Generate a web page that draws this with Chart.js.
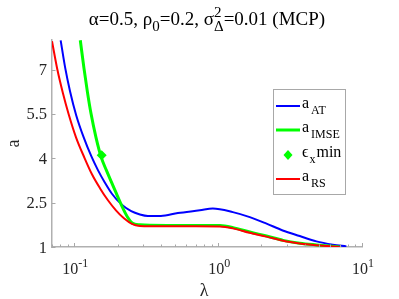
<!DOCTYPE html>
<html>
<head>
<meta charset="utf-8">
<script src="https://cdn.jsdelivr.net/npm/chart.js@4.4.0/dist/chart.umd.min.js"></script>
<style>
  html, body { margin: 0; padding: 0; background: #fff; }
  #wrap { width: 399px; height: 299px; }
</style>
</head>
<body>
<div id="wrap"><canvas id="myChart"></canvas></div>
<script>
// values
const lambdaAT = [0.0804, 0.0866, 0.0934, 0.1032, 0.1168, 0.1313, 0.146, 0.1626, 0.1827, 0.212, 0.2487, 0.2859, 0.325, 0.400, 0.525, 0.746, 0.918, 1.265, 1.66, 2.17, 2.81, 3.69, 4.82, 6.26, 7.79]
const aAT = [7.99, 7.04, 6.27, 5.45, 4.68, 4.07, 3.60, 3.19, 2.80, 2.45, 2.21, 2.10, 2.05, 2.05, 2.15, 2.24, 2.30, 2.18, 2.01, 1.79, 1.56, 1.37, 1.19, 1.08, 1.02]

const lambdaIMSE = [0.1101, 0.1168, 0.1235, 0.1306, 0.1415, 0.154, 0.1673, 0.181, 0.1957, 0.212, 0.2249, 0.236, 0.2496, 0.264, 0.2859, 0.3355, 0.5, 0.7, 1.03, 1.27, 1.66, 2.17, 2.83, 3.69, 4.82, 7.0]
const aIMSE = [7.99, 7.04, 6.23, 5.52, 4.71, 4.03, 3.59, 3.20, 2.82, 2.43, 2.17, 1.99, 1.83, 1.77, 1.75, 1.735, 1.73, 1.73, 1.725, 1.655, 1.505, 1.37, 1.225, 1.13, 1.07, 1.0]

const lambdaRS = [0.07, 0.0762, 0.0834, 0.0914, 0.1028, 0.1181, 0.1327, 0.1508, 0.1714, 0.1948, 0.2214, 0.2516, 0.2859, 0.3355, 0.5, 0.7, 1.03, 1.27, 1.66, 2.17, 2.83, 3.69, 4.82, 7.0]
const aRS = [7.96, 7.01, 6.20, 5.49, 4.71, 4.00, 3.46, 2.99, 2.58, 2.24, 1.97, 1.78, 1.71, 1.70, 1.70, 1.70, 1.695, 1.63, 1.48, 1.35, 1.21, 1.12, 1.06, 1.0]

const lambdaMin = [0.155]
const epsMin = [4.1]

const yTicks = [1, 2.5, 4, 5.5, 7]
const xMajor = [0.1, 1, 10]
const xMajorExp = ['-1', '0', '1']
const xMinor = [0.07, 0.08, 0.09, 0.2, 0.3, 0.4, 0.5, 0.6, 0.7, 0.8, 0.9, 2, 3, 4, 5, 6, 7, 8, 9]

function pts(xs, ys) {
  return xs.map((v, i) => ({ x: v, y: ys[i] }))
}

const FONT = '"Liberation Serif", "Times New Roman", serif'

function layoutParts(ctx, parts) {
  let cur = 0, prevStart = 0, prevW = 0
  const pos = []
  parts.forEach(p => {
    ctx.font = p.size + 'px ' + FONT
    const w = ctx.measureText(p.t).width
    if (p.stack) {
      pos.push(prevStart)
      prevW = Math.max(prevW, w)
      cur = prevStart + prevW
    } else {
      pos.push(cur)
      prevStart = cur
      prevW = w
      cur += w + (p.gap || 0)
    }
  })
  return { pos: pos, width: cur }
}

function drawParts(ctx, parts, x, y, align) {
  const lay = layoutParts(ctx, parts)
  let x0 = x
  if (align == 'center') x0 = x - lay.width / 2
  if (align == 'right') x0 = x - lay.width
  ctx.textAlign = 'left'
  ctx.textBaseline = 'alphabetic'
  parts.forEach((p, i) => {
    ctx.font = p.size + 'px ' + FONT
    ctx.fillText(p.t, x0 + lay.pos[i], y + (p.dy || 0))
  })
}

const decor = {
  id: 'decor',
  afterDraw(chart) {
    const ctx = chart.ctx
    const xs = chart.scales.x
    const ys = chart.scales.y
    const area = chart.chartArea
    ctx.save()

    // inward tick marks
    ctx.strokeStyle = '#a8a8a8'
    ctx.lineWidth = 1
    ctx.beginPath()
    xMinor.forEach(v => {
      const px = Math.round(xs.getPixelForValue(v)) + 0.5
      ctx.moveTo(px, area.bottom)
      ctx.lineTo(px, area.bottom - 2.5)
    })
    xMajor.forEach(v => {
      const px = Math.round(xs.getPixelForValue(v)) + 0.5
      ctx.moveTo(px, area.bottom)
      ctx.lineTo(px, area.bottom - 4)
    })
    yTicks.forEach(v => {
      const py = Math.round(ys.getPixelForValue(v)) + 0.5
      ctx.moveTo(area.left, py)
      ctx.lineTo(area.left + 3.5, py)
    })
    ctx.stroke()

    ctx.fillStyle = '#262626'
    // y tick labels
    ctx.font = '16.5px ' + FONT
    ctx.textAlign = 'right'
    ctx.textBaseline = 'alphabetic'
    yTicks.forEach(v => {
      ctx.fillText(String(v), area.left - 5, ys.getPixelForValue(v) + 5.5)
    })
    // x tick labels
    xMajor.forEach((v, i) => {
      drawParts(ctx, [{ t: '10', size: 16 }, { t: xMajorExp[i], size: 12, dy: -7 }],
        xs.getPixelForValue(v) + 1, area.bottom + 27, 'center')
    })
    // axis titles
    ctx.font = '18px ' + FONT
    ctx.textAlign = 'center'
    ctx.fillText('λ', (area.left + area.right) / 2 - 3, 296)
    ctx.save()
    ctx.translate(19, (area.top + area.bottom) / 2)
    ctx.rotate(-Math.PI / 2)
    ctx.fillText('a', 0, 0)
    ctx.restore()

    // title
    ctx.fillStyle = '#000'
    drawParts(ctx, [
      { t: 'α=0.5, ρ', size: 19 },
      { t: '0', size: 15, dy: 6 },
      { t: '=0.2, σ', size: 19 },
      { t: '2', size: 15, dy: -8 },
      { t: 'Δ', size: 15, dy: 6, stack: true },
      { t: '=0.01 (MCP)', size: 19 }
    ], (area.left + area.right) / 2, 25, 'center')

    // legend
    const bx = 273.5, by = 89.5, bw = 72, bh = 105
    ctx.fillStyle = '#fff'
    ctx.fillRect(bx, by, bw, bh)
    ctx.strokeStyle = '#a8a8a8'
    ctx.lineWidth = 1
    ctx.strokeRect(bx, by, bw, bh)
    const rows = [
      { c: '#0000ff', w: 2, y: 106, parts: [{ t: 'a', size: 16, gap: 2 }, { t: 'AT', size: 12, dy: 6 }] },
      { c: '#00ff00', w: 3, y: 130, parts: [{ t: 'a', size: 16, gap: 2 }, { t: 'IMSE', size: 12, dy: 6 }] },
      { c: '#00ff00', marker: true, y: 155, parts: [{ t: 'ϵ', size: 16, gap: 1 }, { t: 'x', size: 12, dy: 6, gap: 1 }, { t: 'min', size: 16 }] },
      { c: '#ff0000', w: 2, y: 179, parts: [{ t: 'a', size: 16, gap: 2 }, { t: 'RS', size: 12, dy: 6 }] }
    ]
    rows.forEach(r => {
      if (r.marker) {
        ctx.fillStyle = r.c
        ctx.beginPath()
        ctx.moveTo(288, r.y - 5)
        ctx.lineTo(292.5, r.y)
        ctx.lineTo(288, r.y + 5)
        ctx.lineTo(283.5, r.y)
        ctx.closePath()
        ctx.fill()
      } else {
        ctx.strokeStyle = r.c
        ctx.lineWidth = r.w
        ctx.beginPath()
        ctx.moveTo(276, r.y)
        ctx.lineTo(300, r.y)
        ctx.stroke()
      }
      ctx.fillStyle = '#000'
      drawParts(ctx, r.parts, 302, r.y + 2, 'left')
    })
    ctx.restore()
  }
}

const config = {
  type: 'line',
  data: {
    datasets: [
      {
        label: 'a AT',
        data: pts(lambdaAT, aAT),
        borderColor: '#0000ff',
        borderWidth: 2,
        pointRadius: 0,
        cubicInterpolationMode: 'monotone',
        order: 4
      },
      {
        label: 'a IMSE',
        data: pts(lambdaIMSE, aIMSE),
        borderColor: '#00ff00',
        borderWidth: 3,
        pointRadius: 0,
        cubicInterpolationMode: 'monotone',
        order: 3
      },
      {
        label: 'eps x min',
        data: pts(lambdaMin, epsMin),
        showLine: false,
        pointStyle: 'rectRot',
        pointRadius: 5,
        pointBackgroundColor: '#00ff00',
        pointBorderColor: '#00ff00',
        pointBorderWidth: 0,
        order: 2
      },
      {
        label: 'a RS',
        data: pts(lambdaRS, aRS),
        borderColor: '#ff0000',
        borderWidth: 2,
        pointRadius: 0,
        cubicInterpolationMode: 'monotone',
        order: 1
      }
    ]
  },
  options: {
    responsive: true,
    maintainAspectRatio: false,
    animation: false,
    layout: {
      padding: { left: 52, right: 37, top: 40, bottom: 52 }
    },
    plugins: {
      legend: { display: false },
      title: { display: false },
      tooltip: { enabled: false }
    },
    scales: {
      x: {
        type: 'logarithmic',
        min: 0.07,
        max: 10,
        ticks: { display: false },
        grid: { display: false, drawTicks: false, tickLength: 0 },
        border: { display: true, color: '#b0b0b0', width: 1.5 }
      },
      y: {
        type: 'linear',
        min: 1,
        max: 8,
        ticks: { display: false },
        grid: { display: false, drawTicks: false, tickLength: 0 },
        border: { display: true, color: '#b0b0b0', width: 1.5 }
      }
    }
  },
  plugins: [decor]
}

const ctx1 = document.getElementById('myChart')
new Chart(ctx1, config)
</script>
</body>
</html>
